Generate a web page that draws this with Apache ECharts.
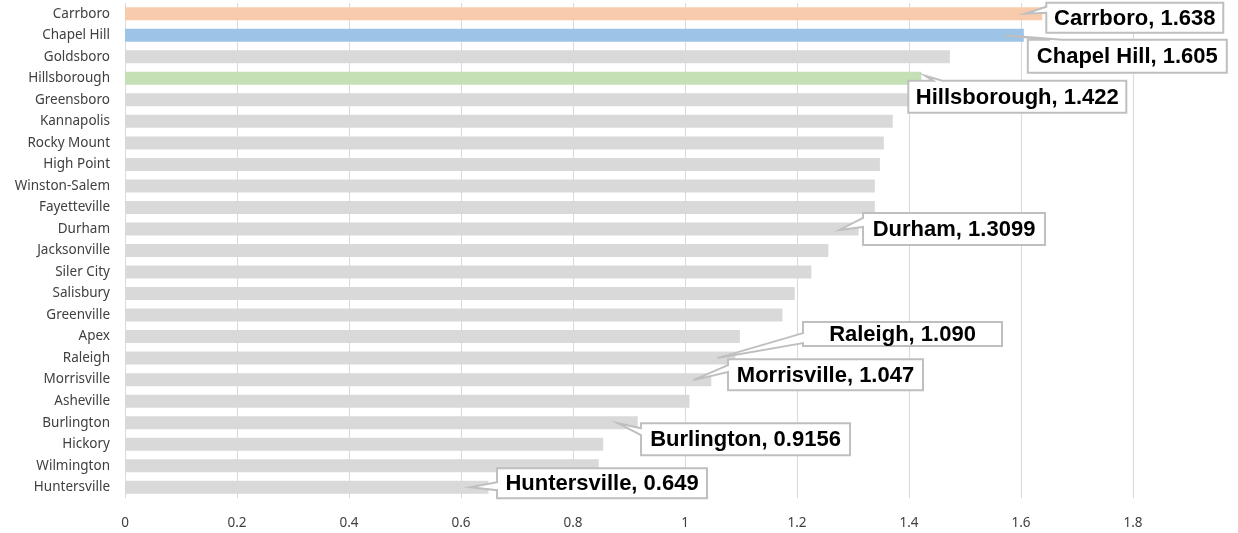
<!DOCTYPE html>
<html>
<head>
<meta charset="utf-8">
<script src="https://cdn.jsdelivr.net/npm/echarts@6/dist/echarts.min.js"></script>
<style>
    html, body {margin: 0; padding: 0; background: #fff;}
    #chart {width: 1238px; height: 533px;}
</style>
</head>
<body>
<div id="chart"></div>
<script>
// cities, top to bottom
var cities = ['Carrboro', 'Chapel Hill', 'Goldsboro', 'Hillsborough', 'Greensboro', 'Kannapolis',
    'Rocky Mount', 'High Point', 'Winston-Salem', 'Fayetteville', 'Durham', 'Jacksonville',
    'Siler City', 'Salisbury', 'Greenville', 'Apex', 'Raleigh', 'Morrisville', 'Asheville',
    'Burlington', 'Hickory', 'Wilmington', 'Huntersville'];
var values = [1.638, 1.605, 1.473, 1.422, 1.400, 1.371,
    1.355, 1.348, 1.339, 1.339, 1.3099, 1.256,
    1.2256, 1.196, 1.174, 1.098, 1.090, 1.047, 1.008,
    0.9156, 0.854, 0.846, 0.649];
// callout text shown next to some bars
var calloutText = {
    'Carrboro': 'Carrboro, 1.638',
    'Chapel Hill': 'Chapel Hill, 1.605',
    'Hillsborough': 'Hillsborough, 1.422',
    'Durham': 'Durham, 1.3099',
    'Raleigh': 'Raleigh, 1.090',
    'Morrisville': 'Morrisville, 1.047',
    'Burlington': 'Burlington, 0.9156',
    'Huntersville': 'Huntersville, 0.649'
};

// styling only
var barColors = {'Carrboro': '#F8CBAD', 'Chapel Hill': '#9DC3E6', 'Hillsborough': '#C5E0B4'};
// box offset from bar end (px), box size, tail tip offset from bar end, tail base on box edge
var calloutBox = {
    'Carrboro':     {dx: 4,  dy: -11, w: 177, h: 30, tip: [-17, 0],  side: 'left', base: [4, 10]},
    'Chapel Hill':  {dx: 4,  dy: 4.5, w: 199, h: 33, tip: [-19, 0],  side: 'top',  base: [22, 34]},
    'Hillsborough': {dx: -13, dy: 2.5, w: 218, h: 32, tip: [4, -2.5], side: 'top', base: [25, 34]},
    'Durham':       {dx: 4.5, dy: -16, w: 182, h: 32, tip: [-19, 1], side: 'left', base: [5, 14]},
    'Raleigh':      {dx: 67.6, dy: -36, w: 199, h: 24, tip: [-18, 0], side: 'left', base: [11, 21]},
    'Morrisville':  {dx: 16.7, dy: -20.5, w: 195, h: 31, tip: [-18, 0.5], side: 'left', base: [6, 13]},
    'Burlington':   {dx: 3.3, dy: 0.5, w: 209, h: 32, tip: [-20, 0.5], side: 'left', base: [5, 12]},
    'Huntersville': {dx: 8.6, dy: -19, w: 210, h: 30, tip: [-18, 0], side: 'left', base: [14, 22]}
};

var el = echarts.init(document.getElementById('chart'));

var barData = values.map(function (v, i) {
    return {value: v, itemStyle: {color: barColors[cities[i]] || '#D9D9D9'}};
});

var calloutData = [];
cities.forEach(function (c, i) {
    if (calloutText[c]) calloutData.push([values[i], i]);
});

function renderCallout(params, api) {
    var idx = api.value(1);
    var name = cities[idx];
    var cfg = calloutBox[name];
    var end = api.coord([api.value(0), idx]);
    var L = end[0] + cfg.dx, T = end[1] + cfg.dy;
    var R = L + cfg.w, B = T + cfg.h;
    var tip = [end[0] + cfg.tip[0], end[1] + cfg.tip[1]];
    var pts;
    if (cfg.side === 'left') {
        pts = [[L, T], [R, T], [R, B], [L, B], [L, T + cfg.base[1]], tip, [L, T + cfg.base[0]]];
    } else {
        pts = [[L, T], [L + cfg.base[0], T], tip, [L + cfg.base[1], T], [R, T], [R, B], [L, B]];
    }
    return {
        type: 'group',
        children: [{
            type: 'polygon',
            shape: {points: pts},
            style: {fill: '#fff', stroke: '#BFBFBF', lineWidth: 2}
        }, {
            type: 'text',
            style: {
                text: calloutText[name],
                x: (L + R) / 2,
                y: (T + B) / 2 + 1,
                align: 'center',
                verticalAlign: 'middle',
                fill: '#000',
                font: 'bold 22px "Liberation Sans"'
            }
        }]
    };
}

var option = {
    animation: false,
    grid: {left: 125, right: 105, top: 3, bottom: 35, containLabel: false},
    xAxis: {
        type: 'value',
        min: 0,
        max: 1.8,
        interval: 0.2,
        axisLine: {show: false},
        axisTick: {show: false},
        splitLine: {lineStyle: {color: '#D9D9D9', width: 1}},
        axisLabel: {
            color: '#404040',
            fontSize: 13.5,
            fontFamily: 'Noto Sans',
            margin: 18
        }
    },
    yAxis: {
        type: 'category',
        inverse: true,
        data: cities,
        axisLine: {show: false},
        axisTick: {show: false},
        axisLabel: {color: '#404040', fontSize: 13.5, fontFamily: 'Noto Sans', margin: 15}
    },
    series: [{
        type: 'bar',
        data: barData,
        barWidth: 13,
        z: 2
    }, {
        type: 'custom',
        data: calloutData,
        renderItem: renderCallout,
        clip: false,
        z: 5
    }]
};
el.setOption(option);
</script>
</body>
</html>
